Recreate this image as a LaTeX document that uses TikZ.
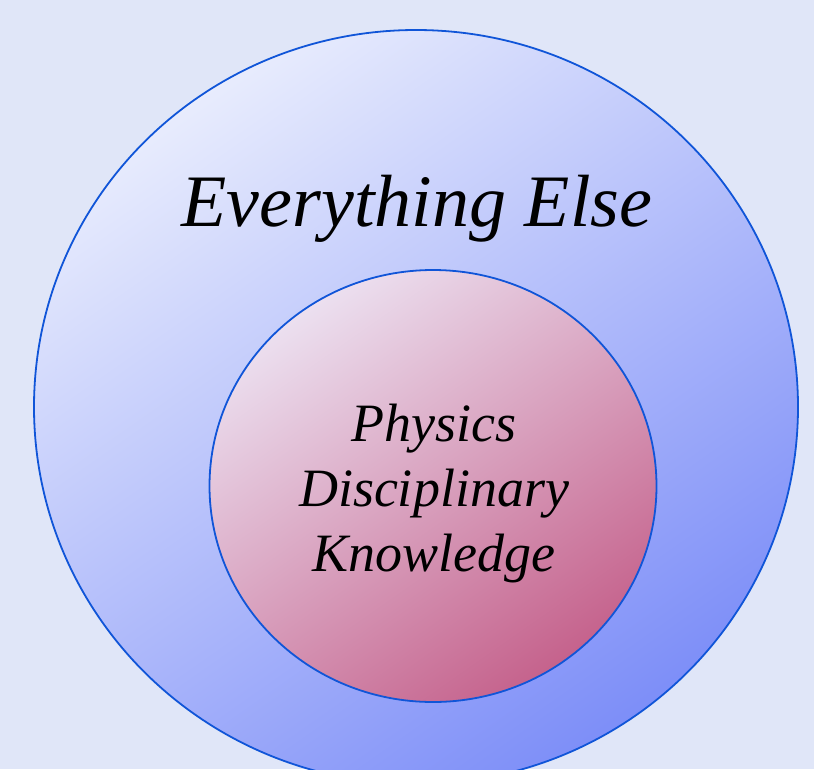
\documentclass[tikz,border=0pt]{standalone}
\usepackage{fontspec}
\setmainfont{Liberation Serif}
\usetikzlibrary{shapes.geometric}
\definecolor{pagebg}{HTML}{E0E6F8}
\definecolor{ringline}{HTML}{1055D8}
\definecolor{outerlight}{HTML}{E8ECFD}
\definecolor{outerdark}{HTML}{7D8EF8}
\definecolor{innerlight}{HTML}{ECE0F0}
\definecolor{innerdark}{HTML}{C5628C}

\begin{document}
\begin{tikzpicture}[x=1pt,y=-1pt,
                    region/.style={ellipse,draw=ringline,line width=1.8pt,inner sep=0pt},
                    outer/.style={region,top color=outerlight,bottom color=outerdark,shading angle=35},
                    inner/.style={region,top color=innerlight,bottom color=innerdark,shading angle=35},
                    title/.style={font={\itshape\fontsize{74}{89}\selectfont},anchor=base},
                    subject/.style={font={\itshape\fontsize{54}{65}\selectfont},align=center,anchor=base}]
    \fill[pagebg] (0,0) rectangle (814,769);
    \useasboundingbox (0,0) rectangle (814,769);

    \node[outer,minimum width=764pt,minimum height=754pt] (else) at (416,407) {};
    \node[title] (elselabel) at (417,226) {Everything Else};

    \node[inner,minimum width=447pt,minimum height=432pt] (physics) at (433,486) {};
    % base of a multi-line node sits on its last line
    \node[subject] (physicslabel) at (434,571) {Physics\\ Disciplinary\\ Knowledge};
\end{tikzpicture}
\end{document}
